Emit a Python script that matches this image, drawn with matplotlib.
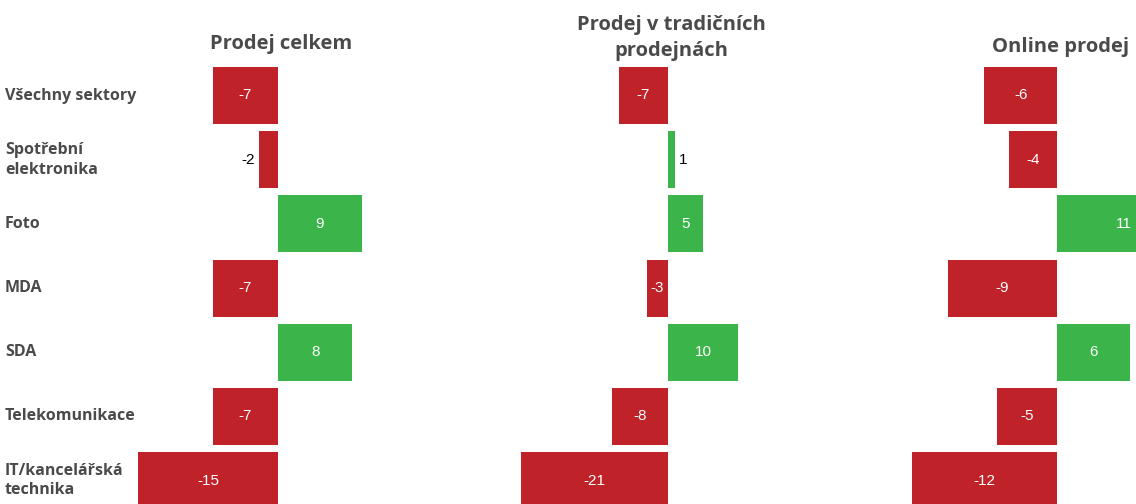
import matplotlib.pyplot as plt

W, H = 1136, 504

categories = ["Všechny sektory", "Spotřební\nelektronika", "Foto", "MDA", "SDA",
              "Telekomunikace", "IT/kancelářská\ntechnika"]
celkem = [-7, -2, 9, -7, 8, -7, -15]
tradicni = [-7, 1, 5, -3, 10, -8, -21]
online = [-6, -4, 11, -9, 6, -5, -12]

RED = "#bf2329"
GREEN = "#3bb54a"
TXT = "#4a4a4a"

plt.rcParams["font.family"] = ["Open Sans", "DejaVu Sans"]

fig = plt.figure(figsize=(W / 100, H / 100), dpi=100)

# each panel: (values, left px, right px, zero px, px per unit)
panels = [
    (celkem, 120, 430, 278, 9.3),
    (tradicni, 500, 830, 668, 7.0),
    (online, 880, 1136, 1057, 12.1),
]

top_px, row0_px, row_step = 60, 95.5, 64.2
y_top = (top_px - row0_px) / row_step
y_bot = (H - row0_px) / row_step

for vals, lpx, rpx, zpx, scale in panels:
    ax = fig.add_axes([lpx / W, 0, (rpx - lpx) / W, (H - top_px) / H])
    ax.set_xlim((lpx - zpx) / scale, (rpx - zpx) / scale)
    ax.set_ylim(y_bot, y_top)
    ax.axis("off")
    ys = range(len(vals))
    colors = [GREEN if v > 0 else RED for v in vals]
    ax.barh(ys, vals, height=0.89, color=colors)
    for y, v in zip(ys, vals):
        if abs(v) <= 2:
            # small bar: label sits outside
            if v > 0:
                ax.text(v + 0.5, y, str(v), ha="left", va="center", fontsize=11,
                        color="black", family="Liberation Sans")
            else:
                ax.text(v - 0.5, y, str(v), ha="right", va="center", fontsize=11,
                        color="black", family="Liberation Sans")
        else:
            ax.text(v / 2, y, str(v), ha="center", va="center", fontsize=11,
                    color="white", family="Liberation Sans")

# panel titles
fig.text(281 / W, 1 - 44 / H, "Prodej celkem", ha="center", va="center",
         fontsize=14.5, fontweight="bold", color=TXT)
fig.text(671 / W, 1 - 38 / H, "Prodej v tradičních\nprodejnách", ha="center", va="center",
         fontsize=14.5, fontweight="bold", color=TXT, linespacing=1.35)
fig.text(1061 / W, 1 - 47 / H, "Online prodej", ha="center", va="center",
         fontsize=14.5, fontweight="bold", color=TXT)

# category labels on the left
for i, cat in enumerate(categories):
    fig.text(5 / W, 1 - (row0_px + i * row_step) / H, cat, ha="left", va="center",
             fontsize=11.5, fontweight="bold", color=TXT, linespacing=1.3)

fig.savefig("out.png", dpi=100, facecolor="white")
